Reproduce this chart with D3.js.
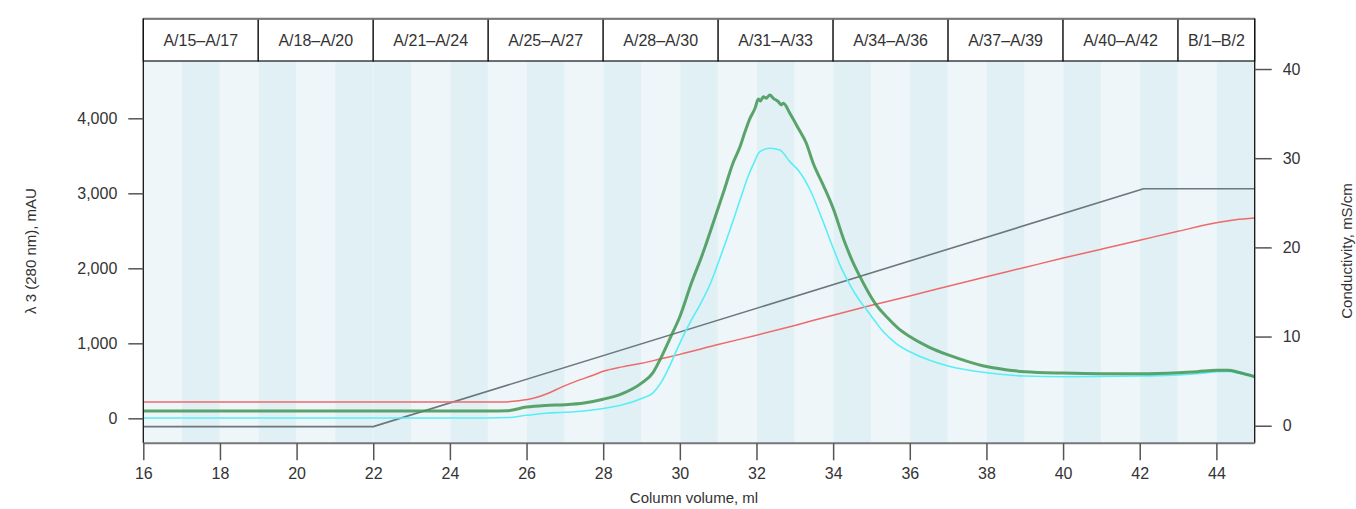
<html>
<head>
<meta charset="utf-8">
<script src="https://cdn.jsdelivr.net/npm/d3@7"></script>
<style>
  body { margin: 0; background: #fff; }
  text { font-family: "Liberation Sans", Arial, sans-serif; fill: #333; }
</style>
</head>
<body>
<div id="chart"></div>
<script>
// fraction header: boundaries (ml) and labels
var fractionEdges = [16, 19, 22, 25, 28, 31, 34, 37, 40, 43, 45];
var fractionLabels = ["A/15–A/17", "A/18–A/20", "A/21–A/24", "A/25–A/27", "A/28–A/30",
                      "A/31–A/33", "A/34–A/36", "A/37–A/39", "A/40–A/42", "B/1–B/2"];
// darker 1 ml stripes (start volume)
var darkStripes = [17, 19, 21, 22, 24, 26, 28, 30, 32, 34, 36, 38, 40, 42, 44];

var xTicks = [16, 18, 20, 22, 24, 26, 28, 30, 32, 34, 36, 38, 40, 42, 44];
var yLeftTicks = [0, 1000, 2000, 3000, 4000];
var yRightTicks = [0, 10, 20, 30, 40];

// UV 280 nm, mAU (green)
var uvGreen = [[16,97],[25,97],[25.5,102],[26,150],[26.5,172],[27,182],[27.5,205],[28,255],[28.5,330],
  [29,470],[29.3,610],[29.5,800],[29.8,1130],[30,1355],[30.3,1800],[30.6,2200],[30.9,2650],[31.13,3000],
  [31.4,3420],[31.57,3620],[31.7,3820],[31.83,4000],[31.96,4130],[32.05,4257],[32.1,4231],[32.18,4288],
  [32.25,4267],[32.35,4311],[32.44,4267],[32.57,4222],[32.65,4178],[32.7,4200],[32.87,4067],[33.09,3867],
  [33.3,3667],[33.48,3400],[33.75,3100],[34,2800],[34.3,2350],[34.5,2100],[34.7,1890],[35.1,1530],
  [35.4,1350],[35.7,1200],[36,1090],[36.5,950],[37,845],[37.5,760],[38,690],[38.5,648],[39,622],
  [40,603],[41,595],[42,595],[43,608],[43.5,622],[44,640],[44.3,640],[44.6,612],[45,555]];

// second UV trace, mAU (cyan)
var uvCyan = [[16,5],[25,5],[25.5,10],[26,40],[26.5,68],[27,80],[27.5,98],[28,130],[28.5,180],[29,265],
  [29.3,340],[29.5,470],[29.7,660],[29.9,890],[30.1,1110],[30.3,1310],[30.5,1490],[30.8,1800],[31,2070],
  [31.3,2500],[31.57,2910],[31.8,3250],[31.91,3378],[32.09,3555],[32.35,3600],[32.61,3578],[32.87,3422],
  [33.1,3300],[33.4,3044],[33.74,2620],[34,2270],[34.2,2020],[34.44,1780],[34.65,1600],[34.87,1450],
  [35.1,1290],[35.3,1160],[35.5,1060],[35.7,975],[36,888],[36.5,777],[37,697],[38,608],[39,564],
  [40,555],[41,557],[42,564],[43,577],[43.5,595],[44,620],[44.3,625],[44.6,600],[45,555]];

// conductivity, mS/cm (red)
var conductivity = [[16,2.66],[25.3,2.66],[25.8,2.8],[26.2,3.1],[26.6,3.7],[26.9,4.3],[27.3,5.0],
  [27.7,5.6],[28,6.1],[28.5,6.6],[29,7.0],[29.5,7.5],[30,8.0],[31,9.1],[32,10.15],[33,11.25],[34,12.4],
  [35,13.5],[36,14.55],[37,15.65],[38,16.7],[39,17.75],[40,18.8],[41,19.8],[42,20.8],[43,21.8],
  [44,22.75],[44.5,23.1],[45,23.3]];

// gradient (gray), right axis units
var gradient = [[16,-0.1],[22,-0.1],[42.1,26.57],[45,26.57]];

var W = 1356, H = 509;
var pL = 143.3, pR = 1254.7, headTop = 18.7, pT = 61, pB = 443.3;

var svg = d3.select("#chart").append("svg").attr("width", W).attr("height", H);

var x = d3.scaleLinear().domain([16, 45]).range([pL, pR]);
var yL = d3.scaleLinear().domain([-333, 4764]).range([pB, pT]);
var yR = d3.scaleLinear().domain([-1.97, 40.9]).range([pB, pT]);

// background stripes
svg.append("rect").attr("x", pL).attr("y", pT).attr("width", pR - pL).attr("height", pB - pT)
  .attr("fill", "#eef6f9");
svg.selectAll("rect.stripe").data(darkStripes).enter().append("rect")
  .attr("class", "stripe")
  .attr("x", function (d) { return x(d) + 0.5; })
  .attr("y", pT)
  .attr("width", function (d) { return x(d + 1) - x(d) - 1; })
  .attr("height", pB - pT)
  .attr("fill", "#e1f0f5");

// header boxes
var heads = d3.range(fractionLabels.length);
svg.selectAll("rect.head").data(heads).enter().append("rect")
  .attr("x", function (i) { return x(fractionEdges[i]); })
  .attr("y", headTop)
  .attr("width", function (i) { return x(fractionEdges[i + 1]) - x(fractionEdges[i]); })
  .attr("height", pT - headTop)
  .attr("fill", "#fff").attr("stroke", "#111").attr("stroke-width", 1.2);
svg.selectAll("text.head").data(heads).enter().append("text")
  .attr("x", function (i) { return (x(fractionEdges[i]) + x(fractionEdges[i + 1])) / 2; })
  .attr("y", 46)
  .attr("text-anchor", "middle")
  .style("font-size", "16px")
  .text(function (i) { return fractionLabels[i]; });
svg.append("line").attr("x1", pL).attr("x2", pR).attr("y1", headTop).attr("y2", headTop)
  .attr("stroke", "#777").attr("stroke-width", 2);

// lines
function addLine(data, yScale, color, width, opacity, curve) {
  var line = d3.line()
    .x(function (d) { return x(d[0]); })
    .y(function (d) { return yScale(d[1]); })
    .curve(curve || d3.curveMonotoneX);
  svg.append("path").datum(data)
    .attr("d", line)
    .attr("fill", "none")
    .attr("stroke", color)
    .attr("stroke-width", width)
    .attr("stroke-opacity", opacity)
    .attr("stroke-linejoin", "round");
}
addLine(gradient, yR, "#6b787e", 1.6, 1, d3.curveLinear);
addLine(conductivity, yR, "#ee6a6a", 1.5, 1);
addLine(uvCyan, yL, "#58eef5", 1.6, 1);
addLine(uvGreen, yL, "#3f9552", 3, 0.85);

// frame
svg.append("line").attr("x1", pL).attr("x2", pL).attr("y1", headTop).attr("y2", pB)
  .attr("stroke", "#111").attr("stroke-width", 1.3);
svg.append("line").attr("x1", pR).attr("x2", pR).attr("y1", headTop).attr("y2", pB)
  .attr("stroke", "#111").attr("stroke-width", 1.3);
svg.append("line").attr("x1", pL).attr("x2", pR).attr("y1", pB).attr("y2", pB)
  .attr("stroke", "#777").attr("stroke-width", 2);

// axes
function styleAxis(g) {
  g.select(".domain").remove();
  g.selectAll(".tick line").attr("stroke", "#555").attr("stroke-width", 1.5);
  g.selectAll(".tick text").style("font-size", "16px").style("font-family", "Liberation Sans, Arial, sans-serif")
    .attr("fill", "#333");
}
svg.append("g").attr("transform", "translate(" + pL + ",0)")
  .call(d3.axisLeft(yL).tickValues(yLeftTicks).tickFormat(d3.format(",")).tickSize(15).tickPadding(11))
  .call(styleAxis);
svg.append("g").attr("transform", "translate(" + pR + ",0)")
  .call(d3.axisRight(yR).tickValues(yRightTicks).tickSize(17).tickPadding(11))
  .call(styleAxis);
svg.append("g").attr("transform", "translate(0," + pB + ")")
  .call(d3.axisBottom(x).tickValues(xTicks).tickSize(17).tickPadding(7))
  .call(styleAxis);

// titles
svg.append("text").attr("x", 694).attr("y", 503).attr("text-anchor", "middle")
  .style("font-size", "15px").text("Column volume, ml");
svg.append("text").attr("transform", "translate(36,251) rotate(-90)").attr("text-anchor", "middle")
  .style("font-size", "15px").text("λ 3 (280 nm), mAU");
svg.append("text").attr("transform", "translate(1352,251) rotate(-90)").attr("text-anchor", "middle")
  .style("font-size", "15px").text("Conductivity, mS/cm");
</script>
</body>
</html>
